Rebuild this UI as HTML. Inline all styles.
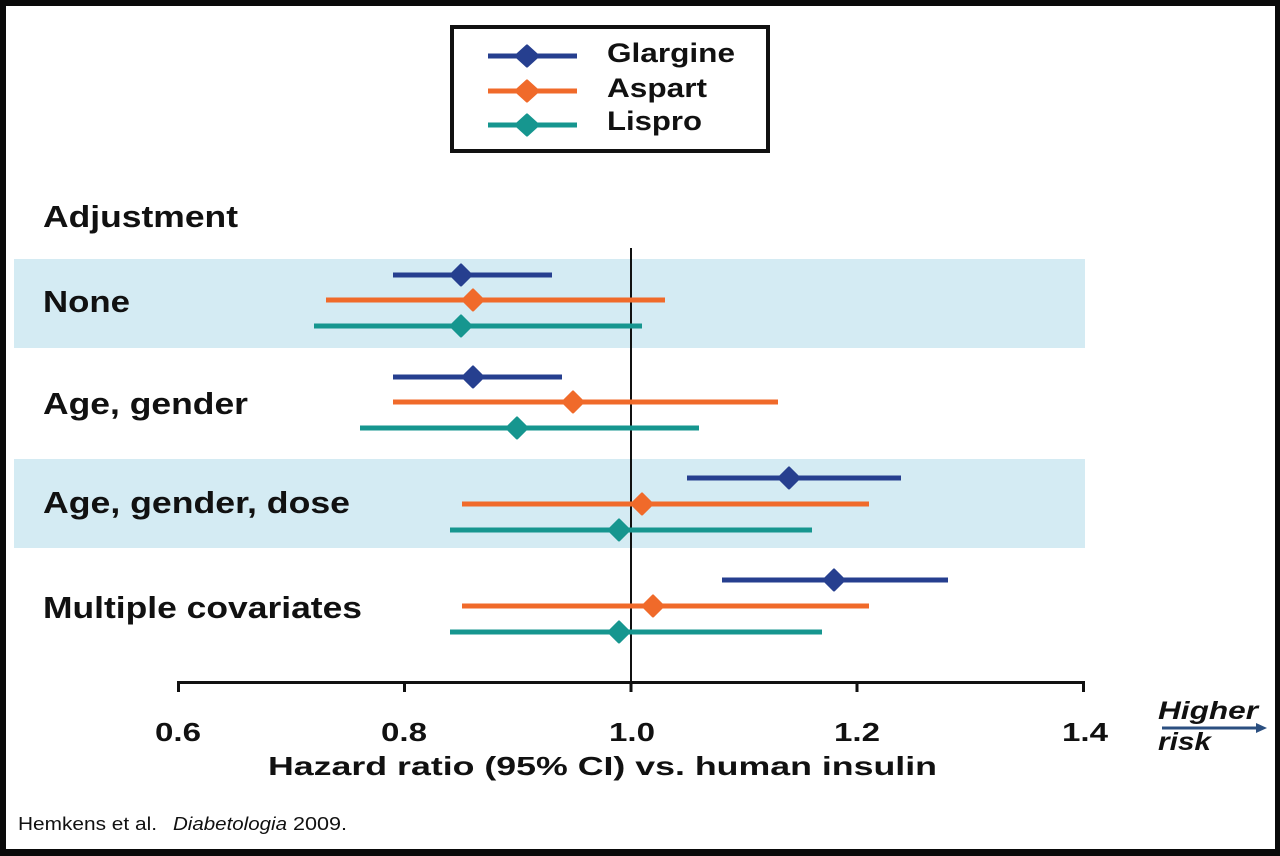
<!DOCTYPE html>
<html><head><meta charset="utf-8"><style>
html,body{margin:0;padding:0;background:#fff;}
svg{display:block;}
text{font-family:"Liberation Sans",Arial,sans-serif;fill:#111;}
</style></head><body>
<svg width="1280" height="856" viewBox="0 0 1280 856" xmlns="http://www.w3.org/2000/svg">
<rect x="0" y="0" width="1280" height="856" fill="#fff"/>
<!-- bands -->
<rect x="14" y="259" width="1071" height="89" fill="#d4ebf3"/>
<rect x="14" y="459" width="1071" height="89" fill="#d4ebf3"/>
<!-- reference line -->
<line x1="631" y1="248" x2="631" y2="682" stroke="#111" stroke-width="2"/>
<!-- axis -->
<line x1="177" y1="682.5" x2="1085" y2="682.5" stroke="#111" stroke-width="3"/>
<g stroke="#111" stroke-width="3">
<line x1="178.5" y1="681" x2="178.5" y2="692"/>
<line x1="404.5" y1="681" x2="404.5" y2="692"/>
<line x1="631" y1="681" x2="631" y2="692"/>
<line x1="857" y1="681" x2="857" y2="692"/>
<line x1="1083.5" y1="681" x2="1083.5" y2="692"/>
</g>
<g font-weight="bold" font-size="26">
<text x="178" y="741" text-anchor="middle" textLength="46" lengthAdjust="spacingAndGlyphs">0.6</text>
<text x="404" y="741" text-anchor="middle" textLength="46" lengthAdjust="spacingAndGlyphs">0.8</text>
<text x="632" y="741" text-anchor="middle" textLength="46" lengthAdjust="spacingAndGlyphs">1.0</text>
<text x="857" y="741" text-anchor="middle" textLength="46" lengthAdjust="spacingAndGlyphs">1.2</text>
<text x="1085" y="741" text-anchor="middle" textLength="46" lengthAdjust="spacingAndGlyphs">1.4</text>
<text x="268" y="775" textLength="669" lengthAdjust="spacingAndGlyphs">Hazard ratio (95% CI) vs. human insulin</text>
</g>
<!-- row labels -->
<g font-weight="bold" font-size="31">
<text x="43" y="227" textLength="195" lengthAdjust="spacingAndGlyphs">Adjustment</text>
<text x="43" y="312" textLength="87" lengthAdjust="spacingAndGlyphs">None</text>
<text x="43" y="414" textLength="205" lengthAdjust="spacingAndGlyphs">Age, gender</text>
<text x="43" y="513" textLength="307" lengthAdjust="spacingAndGlyphs">Age, gender, dose</text>
<text x="43" y="618" textLength="319" lengthAdjust="spacingAndGlyphs">Multiple covariates</text>
</g>
<!-- series -->
<g stroke-width="5">
<!-- None -->
<line x1="393" y1="275" x2="552" y2="275" stroke="#263f8f"/>
<line x1="326" y1="300" x2="665" y2="300" stroke="#f06a2a"/>
<line x1="314" y1="326" x2="642" y2="326" stroke="#16968f"/>
<!-- Age gender -->
<line x1="393" y1="377" x2="562" y2="377" stroke="#263f8f"/>
<line x1="393" y1="402" x2="778" y2="402" stroke="#f06a2a"/>
<line x1="360" y1="428" x2="699" y2="428" stroke="#16968f"/>
<!-- Age gender dose -->
<line x1="687" y1="478" x2="901" y2="478" stroke="#263f8f"/>
<line x1="462" y1="504" x2="869" y2="504" stroke="#f06a2a"/>
<line x1="450" y1="530" x2="812" y2="530" stroke="#16968f"/>
<!-- Multiple -->
<line x1="722" y1="580" x2="948" y2="580" stroke="#263f8f"/>
<line x1="462" y1="606" x2="869" y2="606" stroke="#f06a2a"/>
<line x1="450" y1="632" x2="822" y2="632" stroke="#16968f"/>
</g>
<g stroke-width="3" stroke-linejoin="round">
<polygon points="461,265 471,275 461,285 451,275" fill="#263f8f" stroke="#263f8f"/>
<polygon points="473,290 483,300 473,310 463,300" fill="#f06a2a" stroke="#f06a2a"/>
<polygon points="461,316 471,326 461,336 451,326" fill="#16968f" stroke="#16968f"/>
<polygon points="473,367 483,377 473,387 463,377" fill="#263f8f" stroke="#263f8f"/>
<polygon points="573,392 583,402 573,412 563,402" fill="#f06a2a" stroke="#f06a2a"/>
<polygon points="517,418 527,428 517,438 507,428" fill="#16968f" stroke="#16968f"/>
<polygon points="789,468 799,478 789,488 779,478" fill="#263f8f" stroke="#263f8f"/>
<polygon points="642,494 652,504 642,514 632,504" fill="#f06a2a" stroke="#f06a2a"/>
<polygon points="619,520 629,530 619,540 609,530" fill="#16968f" stroke="#16968f"/>
<polygon points="834,570 844,580 834,590 824,580" fill="#263f8f" stroke="#263f8f"/>
<polygon points="653,596 663,606 653,616 643,606" fill="#f06a2a" stroke="#f06a2a"/>
<polygon points="619,622 629,632 619,642 609,632" fill="#16968f" stroke="#16968f"/>
</g>
<!-- legend -->
<rect x="452" y="27" width="316" height="124" fill="#fff" stroke="#111" stroke-width="4"/>
<g stroke-width="5">
<line x1="488" y1="56" x2="577" y2="56" stroke="#263f8f"/>
<line x1="488" y1="91" x2="577" y2="91" stroke="#f06a2a"/>
<line x1="488" y1="125" x2="577" y2="125" stroke="#16968f"/>
</g>
<g stroke-width="3" stroke-linejoin="round">
<polygon points="527,46 538,56 527,66 516,56" fill="#263f8f" stroke="#263f8f"/>
<polygon points="527,81 538,91 527,101 516,91" fill="#f06a2a" stroke="#f06a2a"/>
<polygon points="527,115 538,125 527,135 516,125" fill="#16968f" stroke="#16968f"/>
</g>
<g font-weight="bold" font-size="27">
<text x="607" y="62" textLength="128" lengthAdjust="spacingAndGlyphs">Glargine</text>
<text x="607" y="97" textLength="100" lengthAdjust="spacingAndGlyphs">Aspart</text>
<text x="607" y="130" textLength="95" lengthAdjust="spacingAndGlyphs">Lispro</text>
</g>
<!-- higher risk -->
<g font-weight="bold" font-style="italic" font-size="25">
<text x="1158" y="719" textLength="100" lengthAdjust="spacingAndGlyphs">Higher</text>
<text x="1158" y="750" textLength="53" lengthAdjust="spacingAndGlyphs">risk</text>
</g>
<line x1="1162" y1="728" x2="1258" y2="728" stroke="#2b4f80" stroke-width="3"/>
<polygon points="1256,723 1267,728 1256,733" fill="#2b4f80"/>
<!-- footnote -->
<g font-size="18">
<text x="18" y="830" textLength="139" lengthAdjust="spacingAndGlyphs">Hemkens et al.</text>
<text x="173" y="830" font-style="italic" textLength="114" lengthAdjust="spacingAndGlyphs">Diabetologia</text>
<text x="293" y="830" textLength="54" lengthAdjust="spacingAndGlyphs">2009.</text>
</g>
<!-- frame -->
<rect x="0" y="0" width="1280" height="6" fill="#0a0a0a"/>
<rect x="0" y="0" width="6" height="856" fill="#0a0a0a"/>
<rect x="1275" y="0" width="5" height="856" fill="#0a0a0a"/>
<rect x="0" y="849" width="1280" height="7" fill="#0a0a0a"/>
</svg>
</body></html>
